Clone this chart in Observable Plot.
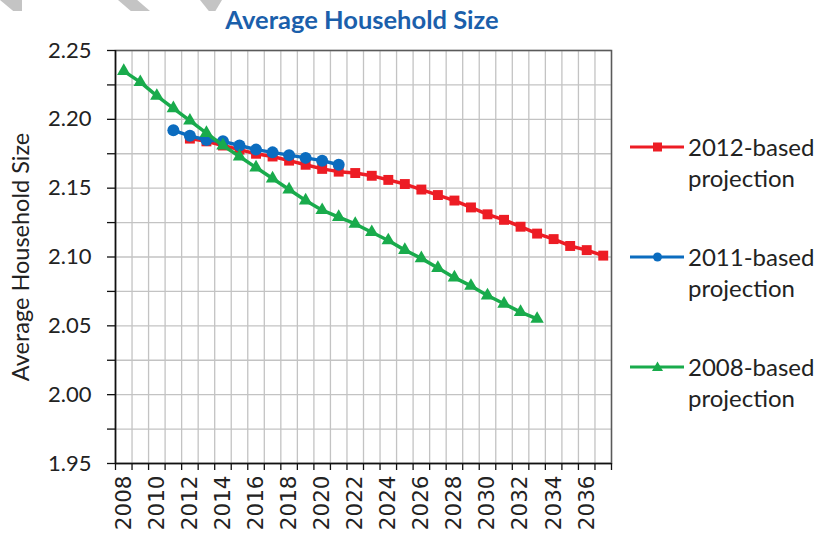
<!DOCTYPE html>
<html>
<head>
<meta charset="utf-8">
<script src="https://cdn.jsdelivr.net/npm/d3@7"></script>
<script src="https://cdn.jsdelivr.net/npm/@observablehq/plot@0.6"></script>
<style>
  html, body { margin: 0; padding: 0; background: #fff; }
  #wrap { position: relative; width: 817px; height: 534px; overflow: hidden; font-family: Lato, sans-serif; }
  #title { position: absolute; left: 0; width: 724px; top: 4px; text-align: center; font-family: Lato, sans-serif; font-weight: bold; font-size: 25.5px; color: #1b5fab; }
  #ylabel { position: absolute; left: 20px; top: 257px; transform: translate(-50%, -50%) rotate(-90deg); white-space: nowrap; font-size: 23.5px; color: #222; }
  .leg { position: absolute; left: 628px; font-size: 24px; line-height: 31px; color: #222; }
  .leg svg { position: absolute; left: 0; top: 0; }
  .leg .txt { margin-left: 60px; }
  .deco { position: absolute; top: 0; height: 11px; background: #c4c4c4; }
</style>
</head>
<body>
<div id="wrap">
  <div class="deco" style="left:0px;width:22px;clip-path:polygon(0 0,100% 0,100% 100%,60% 100%);"></div>
  <div class="deco" style="left:118px;width:32px;clip-path:polygon(0 0,60% 0,100% 100%,40% 100%);"></div>
  <div class="deco" style="left:200px;width:22px;clip-path:polygon(0 0,100% 0,70% 100%,40% 100%);"></div>
  <div id="chart"></div>
  <div id="title">Average Household Size</div>
  <div id="ylabel">Average Household Size</div>
  <div id="legend"></div>
</div>
<script>
// ---- data ----
const years2012 = [2012,2013,2014,2015,2016,2017,2018,2019,2020,2021,2022,2023,2024,2025,2026,2027,2028,2029,2030,2031,2032,2033,2034,2035,2036,2037];
const values2012 = [2.186,2.184,2.181,2.178,2.175,2.173,2.170,2.167,2.164,2.162,2.161,2.159,2.156,2.153,2.149,2.145,2.141,2.136,2.131,2.127,2.122,2.117,2.113,2.108,2.105,2.101];
const years2011 = [2011,2012,2013,2014,2015,2016,2017,2018,2019,2020,2021];
const values2011 = [2.192,2.188,2.185,2.184,2.181,2.178,2.176,2.174,2.172,2.170,2.167];
const years2008 = [2008,2009,2010,2011,2012,2013,2014,2015,2016,2017,2018,2019,2020,2021,2022,2023,2024,2025,2026,2027,2028,2029,2030,2031,2032,2033];
const values2008 = [2.235,2.227,2.217,2.208,2.199,2.190,2.181,2.173,2.165,2.157,2.149,2.141,2.134,2.129,2.124,2.118,2.112,2.105,2.099,2.092,2.085,2.079,2.072,2.066,2.060,2.055];
const seriesNames = ["2012-based projection","2011-based projection","2008-based projection"];
const seriesColors = ["#ED1C24","#0B6CBF","#19AB4C"];
const seriesSymbols = ["square","circle","triangle"];
const yTickLabels = [1.95,2.00,2.05,2.10,2.15,2.20,2.25];
const xTickLabels = [2008,2010,2012,2014,2016,2018,2020,2022,2024,2026,2028,2030,2032,2034,2036];

const s2012 = years2012.map((y,i) => ({year: y, value: values2012[i]}));
const s2011 = years2011.map((y,i) => ({year: y, value: values2011[i]}));
const s2008 = years2008.map((y,i) => ({year: y, value: values2008[i]}));

const boundaries = d3.range(2007.5, 2038, 1);
const yGrid = d3.range(1.95, 2.2501, 0.025).map(v => +v.toFixed(3));

const chart = Plot.plot({
  width: 817,
  height: 534,
  marginLeft: 115,
  marginRight: 206,
  marginTop: 50,
  marginBottom: 71,
  style: {fontFamily: "Lato, sans-serif", fontSize: "22px", color: "#222", background: "transparent"},
  x: {domain: [2007.5, 2037.5]},
  y: {domain: [1.95, 2.25]},
  marks: [
    Plot.gridX(boundaries, {stroke: "#c3c3c3", strokeOpacity: 1, strokeWidth: 1.3}),
    Plot.gridY(yGrid, {stroke: "#c3c3c3", strokeOpacity: 1, strokeWidth: 1.3}),
    Plot.frame({stroke: "#5a5a5a", strokeWidth: 1.5}),
    Plot.axisY(yGrid, {tickSize: 8, tickPadding: 16, tickFormat: d => yTickLabels.some(t => Math.abs(t - d) < 1e-6) ? d.toFixed(2) : "", label: null, stroke: "#111", strokeWidth: 1.3, fontSize: 22, fill: "#222"}),
    Plot.axisX(boundaries, {tickSize: 7, tickFormat: () => "", label: null, stroke: "#111", strokeWidth: 1.3}),
    Plot.axisX(xTickLabels, {tickSize: 0, tickPadding: 12, tickRotate: -90, tickFormat: d => String(d), label: null, fontFamily: "DejaVu Sans", fontSize: 21.5, fill: "#222"}),
    Plot.ruleX([2007.5], {stroke: "#111", strokeWidth: 1.5}),
    Plot.ruleY([1.95], {stroke: "#111", strokeWidth: 1.5}),
    Plot.line(s2012, {x: "year", y: "value", stroke: seriesColors[0], strokeWidth: 3.5}),
    Plot.dot(s2012, {x: "year", y: "value", symbol: seriesSymbols[0], r: 5.6, fill: seriesColors[0]}),
    Plot.line(s2011, {x: "year", y: "value", stroke: seriesColors[1], strokeWidth: 3.5}),
    Plot.dot(s2011, {x: "year", y: "value", symbol: seriesSymbols[1], r: 6, fill: seriesColors[1]}),
    Plot.line(s2008, {x: "year", y: "value", stroke: seriesColors[2], strokeWidth: 3.5}),
    Plot.dot(s2008, {x: "year", y: "value", symbol: seriesSymbols[2], r: 5, fill: seriesColors[2]})
  ]
});
document.getElementById("chart").appendChild(chart);

// legend (HTML)
const legendTops = [131, 241, 351];
const leg = document.getElementById("legend");
seriesNames.forEach((name, i) => {
  const div = document.createElement("div");
  div.className = "leg";
  div.style.top = legendTops[i] + "px";
  const [a, b] = name.split(" ");
  const sym = seriesSymbols[i];
  let marker = "";
  if (sym === "square") marker = `<rect x="25" y="11.5" width="9" height="9" fill="${seriesColors[i]}"/>`;
  else if (sym === "circle") marker = `<circle cx="29.5" cy="16" r="4.5" fill="${seriesColors[i]}"/>`;
  else marker = `<path d="M29.5 10.5 L35 20 L24 20 Z" fill="${seriesColors[i]}"/>`;
  div.innerHTML = `<svg width="60" height="31"><line x1="2" x2="56" y1="16" y2="16" stroke="${seriesColors[i]}" stroke-width="3"/>${marker}</svg><div class="txt">${a}<br>${b}</div>`;
  leg.appendChild(div);
});
</script>
</body>
</html>
